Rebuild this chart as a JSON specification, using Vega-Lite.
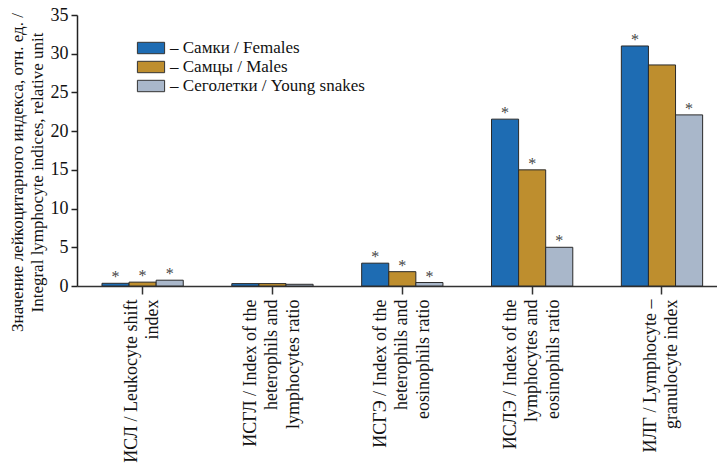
{
  "$schema": "https://vega.github.io/schema/vega-lite/v6.json",
  "autosize": "none",
  "padding": {"left": 77, "top": 15, "right": 0, "bottom": 182},
  "width": 640,
  "height": 271,
  "background": "white",
  "config": {
    "view": {"stroke": null},
    "font": "Liberation Serif"
  },
  "data": {
    "values": [
      {"index": "ИСЛ / Leukocyte shift|index", "group": "Самки / Females", "value": 0.35, "sig": "*"},
      {"index": "ИСЛ / Leukocyte shift|index", "group": "Самцы / Males", "value": 0.5, "sig": "*"},
      {"index": "ИСЛ / Leukocyte shift|index", "group": "Сеголетки / Young snakes", "value": 0.75, "sig": "*"},
      {"index": "ИСГЛ / Index of the|heterophils and|lymphocytes ratio", "group": "Самки / Females", "value": 0.31, "sig": ""},
      {"index": "ИСГЛ / Index of the|heterophils and|lymphocytes ratio", "group": "Самцы / Males", "value": 0.31, "sig": ""},
      {"index": "ИСГЛ / Index of the|heterophils and|lymphocytes ratio", "group": "Сеголетки / Young snakes", "value": 0.22, "sig": ""},
      {"index": "ИСГЭ / Index of the|heterophils and|eosinophils ratio", "group": "Самки / Females", "value": 2.95, "sig": "*"},
      {"index": "ИСГЭ / Index of the|heterophils and|eosinophils ratio", "group": "Самцы / Males", "value": 1.85, "sig": "*"},
      {"index": "ИСГЭ / Index of the|heterophils and|eosinophils ratio", "group": "Сеголетки / Young snakes", "value": 0.45, "sig": "*"},
      {"index": "ИСЛЭ / Index of the|lymphocytes and|eosinophils ratio", "group": "Самки / Females", "value": 21.55, "sig": "*"},
      {"index": "ИСЛЭ / Index of the|lymphocytes and|eosinophils ratio", "group": "Самцы / Males", "value": 15.0, "sig": "*"},
      {"index": "ИСЛЭ / Index of the|lymphocytes and|eosinophils ratio", "group": "Сеголетки / Young snakes", "value": 5.0, "sig": "*"},
      {"index": "ИЛГ / Lymphocyte –|granulocyte index", "group": "Самки / Females", "value": 31.0, "sig": "*"},
      {"index": "ИЛГ / Lymphocyte –|granulocyte index", "group": "Самцы / Males", "value": 28.55, "sig": ""},
      {"index": "ИЛГ / Lymphocyte –|granulocyte index", "group": "Сеголетки / Young snakes", "value": 22.1, "sig": "*"}
    ]
  },
  "encoding": {
    "x": {
      "field": "index",
      "type": "nominal",
      "sort": null,
      "scale": {"paddingInner": 0.374, "paddingOuter": 0.1515, "align": 0.635},
      "axis": {
        "title": null,
        "labelAngle": -90,
        "labelAlign": "right",
        "labelBaseline": "middle",
        "labelExpr": "split(datum.label, '|')",
        "labelOffset": {"condition": {"test": "length(split(datum.value, '|')) == 2", "value": -11}, "value": -21.5},
        "labelFont": "Liberation Serif",
        "labelFontSize": 18,
        "labelLineHeight": 21.5,
        "labelColor": "#111",
        "labelPadding": 5,
        "labelLimit": 0,
        "tickSize": 8,
        "tickWidth": 1.5,
        "tickColor": "#333",
        "domainColor": "#333",
        "domainWidth": 1.5
      }
    },
    "xOffset": {
      "field": "group",
      "type": "nominal",
      "sort": null,
      "scale": {"paddingInner": 0, "paddingOuter": 0}
    },
    "y": {
      "field": "value",
      "type": "quantitative",
      "scale": {"domain": [0, 35], "nice": false},
      "axis": {
        "title": ["Значение лейкоцитарного индекса, отн. ед. /", "Integral lymphocyte indices, relative unit"],
        "titleFont": "Liberation Serif",
        "titleFontSize": 17,
        "titleFontWeight": "normal",
        "titleColor": "#111",
        "titleLineHeight": 20,
        "titleAngle": -90,
        "titleAlign": "center",
        "titleBaseline": "middle",
        "titleX": -60,
        "titleY": 157,
        "values": [0, 5, 10, 15, 20, 25, 30, 35],
        "grid": false,
        "labelFont": "Liberation Serif",
        "labelFontSize": 18,
        "labelColor": "#111",
        "labelPadding": 3,
        "tickSize": 6,
        "tickWidth": 1.5,
        "tickColor": "#222",
        "domainColor": "#222",
        "domainWidth": 1.5
      }
    }
  },
  "layer": [
    {
      "mark": {"type": "bar", "stroke": "#2a2a2a", "strokeWidth": 1},
      "encoding": {
        "color": {
          "field": "group",
          "type": "nominal",
          "sort": null,
          "scale": {
            "domain": ["Самки / Females", "Самцы / Males", "Сеголетки / Young snakes"],
            "range": ["#1e6cb3", "#be8e2e", "#a9b7ca"]
          },
          "legend": {
            "orient": "none",
            "legendX": 65,
            "legendY": 24,
            "title": null,
            "symbolType": "M-1.6,-0.67H1.6V0.67H-1.6Z",
            "symbolSize": 289,
            "symbolStrokeColor": "#333",
            "symbolStrokeWidth": 1,
            "symbolOpacity": 1,
            "labelFont": "Liberation Serif",
            "labelFontSize": 17,
            "labelColor": "#111",
            "labelOffset": 10,
            "rowPadding": 2,
            "labelLimit": 0,
            "labelExpr": "'– ' + datum.label"
          }
        }
      }
    },
    {
      "mark": {"type": "text", "font": "Liberation Serif", "fontSize": 16, "color": "#444", "baseline": "alphabetic", "dy": -1},
      "encoding": {
        "text": {"field": "sig"}
      }
    }
  ]
}
